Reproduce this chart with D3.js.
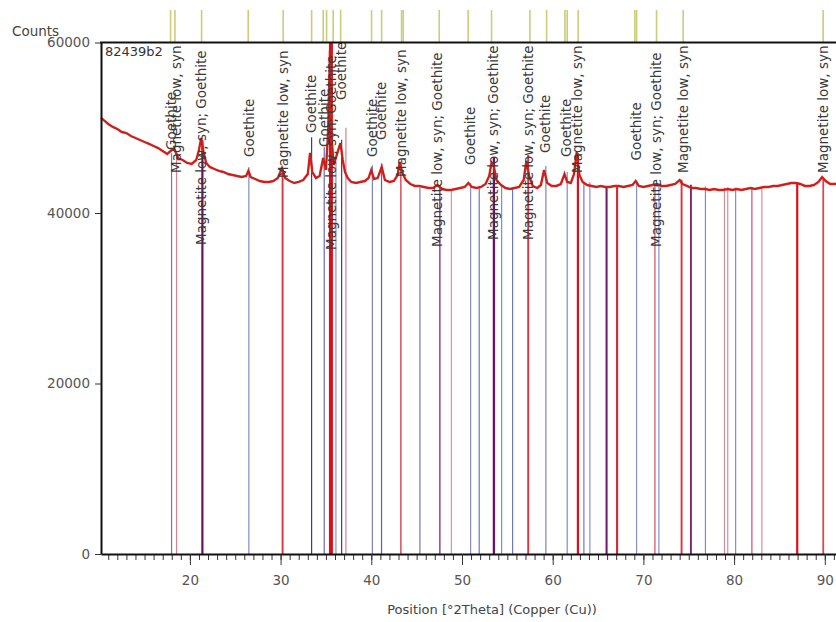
<!DOCTYPE html>
<html>
<head>
<meta charset="utf-8">
<script src="https://cdn.jsdelivr.net/npm/d3@7"></script>
<style>
  body { margin: 0; background: #fff; }
  svg { display: block; font-family: "DejaVu Sans", sans-serif; }
</style>
</head>
<body>
<div id="chart"></div>
<script>
// measured pattern (2Theta, counts)
const twoTheta = [10.2, 10.6, 11.0, 11.5, 12.0, 12.5, 13.0, 13.5, 14.0, 14.5, 15.0, 15.5, 16.0, 16.5, 17.0, 17.5, 18.0, 18.3, 18.7, 19.2, 19.7, 20.2, 20.7, 21.0, 21.25, 21.5, 21.8, 22.2, 22.7, 23.2, 23.7, 24.2, 24.7, 25.2, 25.7, 26.2, 26.45, 26.7, 27.2, 27.7, 28.2, 28.7, 29.2, 29.7, 30.15, 30.5, 31.0, 31.5, 32.0, 32.5, 33.0, 33.25, 33.5, 33.9, 34.3, 34.7, 35.0, 35.25, 35.45, 35.65, 35.85, 36.1, 36.35, 36.6, 36.85, 37.1, 37.4, 37.8, 38.3, 38.8, 39.3, 39.7, 40.0, 40.3, 40.7, 41.15, 41.5, 42.0, 42.5, 42.9, 43.15, 43.4, 43.8, 44.3, 44.8, 45.3, 45.8, 46.3, 46.8, 47.3, 47.8, 48.3, 48.8, 49.3, 49.8, 50.3, 50.7, 51.1, 51.6, 52.1, 52.6, 53.0, 53.25, 53.5, 53.8, 54.3, 54.8, 55.3, 55.8, 56.3, 56.8, 57.1, 57.4, 57.8, 58.3, 58.7, 59.05, 59.4, 59.9, 60.4, 60.9, 61.3, 61.6, 62.0, 62.35, 62.65, 62.95, 63.3, 63.8, 64.3, 64.8, 65.3, 65.8, 66.3, 66.8, 67.3, 67.8, 68.3, 68.8, 69.15, 69.5, 70.0, 70.5, 71.0, 71.5, 72.0, 72.5, 73.0, 73.5, 74.0, 74.3, 74.8, 75.3, 75.8, 76.3, 76.8, 77.3, 77.8, 78.3, 78.8, 79.3, 79.8, 80.3, 80.8, 81.3, 81.8, 82.3, 82.8, 83.3, 83.8, 84.3, 84.8, 85.3, 85.8, 86.3, 86.8, 87.3, 87.8, 88.3, 88.8, 89.3, 89.7, 90.1, 90.6, 91.1, 91.5];
const counts = [51150, 50800, 50450, 50100, 49850, 49500, 49380, 49030, 48800, 48560, 48330, 48100, 47860, 47620, 47270, 46920, 47390, 47500, 46450, 46220, 45870, 45750, 46220, 47390, 48800, 47150, 45870, 45400, 45160, 44930, 44810, 44570, 44460, 44340, 44220, 44340, 44930, 44220, 43990, 43750, 43640, 43640, 43750, 44100, 45280, 44100, 43750, 43520, 43640, 43870, 44570, 47040, 44810, 44100, 44340, 46450, 45040, 49740, 59100, 48560, 45630, 46450, 47390, 48210, 46220, 44810, 44100, 43640, 43520, 43640, 43750, 44100, 45040, 43990, 44100, 45400, 43870, 43640, 43750, 44460, 45980, 44810, 43870, 43400, 43170, 43170, 43050, 42930, 42930, 43280, 42810, 42700, 42700, 42810, 42930, 43050, 43520, 43050, 42930, 43050, 43400, 44340, 45870, 45510, 43870, 43280, 42930, 42810, 42930, 43050, 43870, 46100, 44340, 43170, 42930, 43280, 45040, 43520, 43170, 43170, 43400, 44570, 43640, 43520, 44570, 47150, 44460, 43640, 43280, 43170, 43050, 43170, 43050, 43050, 43170, 43170, 43050, 43170, 43280, 43750, 43170, 43050, 43170, 43280, 43400, 43170, 43170, 43280, 43400, 43870, 43400, 43170, 42930, 42930, 42810, 42810, 42700, 42810, 42700, 42700, 42810, 42700, 42810, 42700, 42810, 42930, 42810, 42930, 43050, 43050, 43170, 43170, 43280, 43400, 43520, 43520, 43400, 43170, 43170, 43280, 43640, 44220, 43750, 43400, 43400, 43520];

// reference sticks
const stickPos = [17.98, 18.53, 21.38, 26.5, 30.22, 33.42, 34.81, 35.55, 36.1, 36.73, 37.2, 40.12, 41.13, 43.26, 45.36, 47.56, 48.83, 50.95, 51.9, 53.52, 54.37, 55.58, 57.3, 59.25, 61.6, 62.78, 63.44, 64.1, 65.94, 67.1, 69.25, 71.27, 71.71, 74.21, 75.24, 76.84, 78.94, 79.3, 80.17, 81.96, 83.06, 86.96, 89.83];
const stickPhase = ["G", "M", "B", "G", "M", "G", "G", "M", "G", "G", "M", "G", "G", "M", "G", "B", "M", "G", "G", "B", "G", "G", "M", "G", "G", "M", "G", "G", "B", "M", "G", "M", "G", "M", "B", "G", "M", "M", "G", "M", "M", "M", "M"];
const stickRel = [20, 8, 40, 12, 30, 45, 25, 100, 10, 50, 8, 15, 30, 20, 20, 15, 5, 10, 20, 45, 12, 20, 30, 15, 12, 40, 20, 10, 35, 35, 10, 15, 10, 30, 30, 12, 6, 6, 12, 15, 6, 40, 25];
const stickTop = [47000, 46800, 48500, 45400, 45300, 48900, 47700, 60000, 46000, 48600, 50000, 45600, 45800, 46000, 43000, 43200, 42800, 43500, 43100, 46500, 43400, 43000, 46800, 45500, 44800, 47000, 43500, 43600, 43100, 43100, 43800, 43300, 43300, 43900, 43300, 43100, 43000, 43000, 43000, 43000, 43100, 43600, 44000];

// peak labels
const labelPos = [17.9, 18.45, 21.3, 26.5, 30.25, 33.4, 34.8, 35.55, 36.7, 40.1, 41.15, 43.3, 47.3, 50.9, 53.4, 57.3, 59.2, 61.5, 62.75, 69.2, 71.45, 74.35, 89.8];
const labelText = ["Goethite", "Magnetite low, syn", "Magnetite low, syn; Goethite", "Goethite", "Magnetite low, syn", "Goethite", "Goethite", "Magnetite low, syn; Goethite", "Goethite", "Goethite", "Goethite", "Magnetite low, syn", "Magnetite low, syn; Goethite", "Goethite", "Magnetite low, syn; Goethite", "Magnetite low, syn; Goethite", "Goethite", "Goethite", "Magnetite low, syn", "Goethite", "Magnetite low, syn; Goethite", "Magnetite low, syn", "Magnetite low, syn"];
const labelBase = [47390, 44692, 36246, 46569, 44106, 49384, 47742, 35660, 53255, 46569, 48563, 44223, 36012, 45630, 36833, 36833, 47038, 46569, 44692, 46158, 36012, 44692, 44692];

// peak list markers above the frame
const peakMarks = [17.87, 18.35, 21.29, 26.43, 30.29, 33.42, 34.7, 35.07, 35.8, 36.62, 40.03, 41.14, 43.34, 43.52, 47.49, 50.68, 53.26, 57.49, 59.33, 61.35, 61.6, 62.81, 69.06, 69.25, 71.45, 74.39, 89.82];

const W = 836, H = 622;
const x = d3.scaleLinear().domain([10.2, 91.5]).range([101, 838.4]);
const y = d3.scaleLinear().domain([0, 60000]).range([554, 42.5]);

const svg = d3.select("#chart").append("svg").attr("width", W).attr("height", H);

// peak list markers
svg.append("g")
  .selectAll("line")
  .data(peakMarks)
  .join("line")
  .attr("x1", (d) => x(d)).attr("x2", (d) => x(d))
  .attr("y1", 10).attr("y2", y(60000))
  .attr("stroke", "#cccc7a")
  .attr("stroke-width", 1.6);

// stick colours by phase and intensity
const stickColor = (p, r) => {
  if (p === "G") return d3.interpolateRgb("#9aa8e2", "#3a3a92")(Math.min(r / 45, 1));
  if (p === "M") return d3.interpolateRgb("#dba0ac", "#d8101e")(Math.min(r / 40, 1));
  return d3.interpolateRgb("#9a5a9e", "#6a1262")(Math.min(r / 40, 1));
};
const stickWidth = d3.scaleLinear().domain([0, 100]).range([1, 4]);

svg.append("g")
  .selectAll("line")
  .data(stickPos)
  .join("line")
  .attr("x1", (d) => x(d)).attr("x2", (d) => x(d))
  .attr("y1", y(0))
  .attr("y2", (d, i) => y(stickTop[i]))
  .attr("stroke", (d, i) => stickColor(stickPhase[i], stickRel[i]))
  .attr("stroke-width", (d, i) => (stickPhase[i] === "G" ? 1.2 : stickWidth(stickRel[i])));

// the scan
const pts = twoTheta.map((t, i) => [t, counts[i]]);
const line = d3.line().x((d) => x(d[0])).y((d) => y(d[1]));
svg.append("path")
  .datum(pts)
  .attr("fill", "none")
  .attr("stroke", "#e02020")
  .attr("stroke-width", 2.4)
  .attr("d", line);
svg.append("path")
  .datum(pts)
  .attr("fill", "none")
  .attr("stroke", "#7a3010")
  .attr("stroke-opacity", 0.5)
  .attr("stroke-width", 0.9)
  .attr("d", line);

// peak labels, rotated
svg.append("g")
  .selectAll("text")
  .data(labelPos)
  .join("text")
  .attr("transform", (d, i) => `translate(${x(d)},${y(labelBase[i])}) rotate(-90)`)
  .attr("dy", "0.35em")
  .attr("font-size", 13.5)
  .attr("fill", "#3a3a3a")
  .text((d, i) => labelText[i]);

// frame top
svg.append("line")
  .attr("x1", 100).attr("x2", W)
  .attr("y1", y(60000)).attr("y2", y(60000))
  .attr("stroke", "#111").attr("stroke-width", 2);

// x axis: minor then major ticks
const xMinor = svg.append("g")
  .attr("transform", `translate(0,${y(0)})`)
  .call(d3.axisBottom(x).tickValues(d3.range(11, 92)).tickSize(6).tickFormat("").tickSizeOuter(0));
xMinor.select(".domain").remove();
xMinor.selectAll("line").attr("stroke", "#333");

const xAxis = svg.append("g")
  .attr("transform", `translate(0,${y(0)})`)
  .call(d3.axisBottom(x).tickValues([20, 30, 40, 50, 60, 70, 80, 90]).tickSize(11).tickPadding(10).tickSizeOuter(0));
xAxis.select(".domain").attr("stroke", "#111").attr("stroke-width", 2);
xAxis.selectAll("line").attr("stroke", "#333");
xAxis.selectAll("text").attr("font-size", 13.5).attr("fill", "#555").attr("font-family", "DejaVu Sans, sans-serif");

// y axis
const yAxis = svg.append("g")
  .attr("transform", "translate(101,0)")
  .call(d3.axisLeft(y).tickValues([0, 20000, 40000, 60000]).tickSize(6).tickPadding(5).tickFormat(d3.format("d")).tickSizeOuter(0));
yAxis.select(".domain").attr("stroke", "#111").attr("stroke-width", 2);
yAxis.selectAll("line").attr("stroke", "#333");
yAxis.selectAll("text").attr("font-size", 13.5).attr("fill", "#555").attr("font-family", "DejaVu Sans, sans-serif");

// titles
svg.append("text").attr("x", 12).attr("y", 36)
  .attr("font-size", 13.5).attr("fill", "#444").text("Counts");
svg.append("text").attr("x", 105).attr("y", 56)
  .attr("font-size", 13).attr("fill", "#333").text("82439b2");
svg.append("text").attr("x", 492).attr("y", 614)
  .attr("text-anchor", "middle")
  .attr("font-size", 13).attr("fill", "#444")
  .text("Position [°2Theta] (Copper (Cu))");
</script>
</body>
</html>
